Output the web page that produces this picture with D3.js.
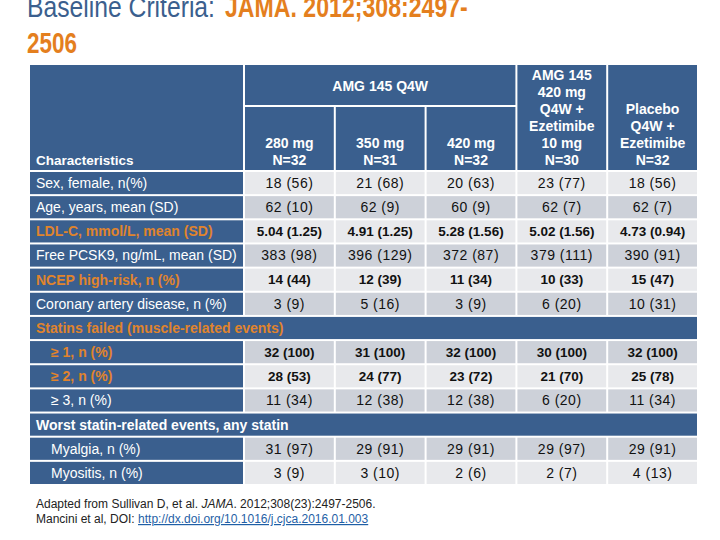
<!DOCTYPE html>
<html>
<head>
<meta charset="utf-8">
<script src="https://cdn.jsdelivr.net/npm/d3@7"></script>
<style>
  html, body { margin: 0; padding: 0; background: #fff; }
  svg { display: block; }
  text { font-family: "Liberation Sans", Arial, sans-serif; }
</style>
</head>
<body>
<svg id="chart" width="720" height="540"></svg>
<script>
// ---------- data ----------
const titleMain = "Baseline Criteria:";
const titleRef1 = "JAMA. 2012;308:2497-";
const titleRef2 = "2506";

const spanHeader = "AMG 145 Q4W";
const cornerHeader = "Characteristics";
const columnHeaders = [
  ["280 mg", "N=32"],
  ["350 mg", "N=31"],
  ["420 mg", "N=32"],
  ["AMG 145", "420 mg", "Q4W +", "Ezetimibe", "10 mg", "N=30"],
  ["Placebo", "Q4W +", "Ezetimibe", "N=32"]
];
const spannedColumns = [0, 1, 2];

const categories = [
  "Sex, female, n(%)",
  "Age, years, mean (SD)",
  "LDL-C, mmol/L, mean (SD)",
  "Free PCSK9, ng/mL, mean (SD)",
  "NCEP high-risk, n (%)",
  "Coronary artery disease, n (%)",
  "Statins failed (muscle-related events)",
  "\u2265 1, n (%)",
  "\u2265 2, n (%)",
  "\u2265 3, n (%)",
  "Worst statin-related events, any statin",
  "Myalgia, n (%)",
  "Myositis, n (%)"
];
// kind: plain | hilite | section-orange | section-white ; indent flag
const rowKinds = ["plain","plain","hilite","plain","hilite","plain","section-orange","hilite","hilite","plain","section-white","plain","plain"];
const rowIndent = [false,false,false,false,false,false,false,true,true,true,false,true,true];

const cellValues = [
  ["18 (56)", "21 (68)", "20 (63)", "23 (77)", "18 (56)"],
  ["62 (10)", "62 (9)", "60 (9)", "62 (7)", "62 (7)"],
  ["5.04 (1.25)", "4.91 (1.25)", "5.28 (1.56)", "5.02 (1.56)", "4.73 (0.94)"],
  ["383 (98)", "396 (129)", "372 (87)", "379 (111)", "390 (91)"],
  ["14 (44)", "12 (39)", "11 (34)", "10 (33)", "15 (47)"],
  ["3 (9)", "5 (16)", "3 (9)", "6 (20)", "10 (31)"],
  null,
  ["32 (100)", "31 (100)", "32 (100)", "30 (100)", "32 (100)"],
  ["28 (53)", "24 (77)", "23 (72)", "21 (70)", "25 (78)"],
  ["11 (34)", "12 (38)", "12 (38)", "6 (20)", "11 (34)"],
  null,
  ["31 (97)", "29 (91)", "29 (91)", "29 (97)", "29 (91)"],
  ["3 (9)", "3 (10)", "2 (6)", "2 (7)", "4 (13)"]
];

const footLine1 = ["Adapted from Sullivan D, et al. ", "JAMA", ". 2012;308(23):2497-2506."];
const footLine2 = ["Mancini et al, DOI: ", "http://dx.doi.org/10.1016/j.cjca.2016.01.003"];

// ---------- style ----------
const BLUE = "#3a5f8e";
const ORANGE = "#e0842c";
const LIGHT = "#e8e9ec";
const DARK = "#cdd1d9";
const TITLE_BLUE = "#3b5f8e";
const TITLE_ORANGE = "#e47f1e";

const svg = d3.select("#chart");

// ---------- title (condensed horizontally to the reference widths) ----------
function condensedText(str, x0, y0, targetW, bold, color) {
  const g = svg.append("g");
  const t = g.append("text").attr("x", 0).attr("y", 0)
    .attr("font-size", 30).attr("font-weight", bold ? "bold" : "normal")
    .attr("fill", color).text(str);
  const w = t.node().getComputedTextLength();
  g.attr("transform", `translate(${x0},${y0}) scale(${targetW / w},1)`);
}
condensedText(titleMain, 27, 17, 188, false, TITLE_BLUE);
condensedText(titleRef1, 225, 17, 243, true, TITLE_ORANGE);
condensedText(titleRef2, 27, 53, 50, true, TITLE_ORANGE);

// ---------- scales ----------
const left = 30, labelRight = 243;
const x = d3.scaleBand().domain(d3.range(columnHeaders.length))
  .range([245, 697]).paddingInner(0.022).paddingOuter(0);
const y = d3.scaleBand().domain(d3.range(categories.length))
  .range([172, 484]).paddingInner(0.083).paddingOuter(0);
const right = x(columnHeaders.length - 1) + x.bandwidth();

const headTop = 65, headBottom = 170, spanBottom = 105, subTop = 107;

// ---------- header ----------
const head = svg.append("g");
head.append("rect").attr("x", left).attr("y", headTop)
  .attr("width", labelRight - left).attr("height", headBottom - headTop).attr("fill", BLUE);
head.append("text").attr("x", 36).attr("y", 165)
  .attr("font-size", 13.5).attr("font-weight", "bold").attr("fill", "#fff")
  .text(cornerHeader);

const spanX0 = x(spannedColumns[0]);
const spanX1 = x(spannedColumns[spannedColumns.length - 1]) + x.bandwidth();
head.append("rect").attr("x", spanX0).attr("y", headTop)
  .attr("width", spanX1 - spanX0).attr("height", spanBottom - headTop).attr("fill", BLUE);
head.append("text").attr("x", (spanX0 + spanX1) / 2).attr("y", 86)
  .attr("dy", "0.35em").attr("text-anchor", "middle")
  .attr("font-size", 14).attr("font-weight", "bold").attr("fill", "#fff")
  .text(spanHeader);

columnHeaders.forEach((lines, i) => {
  const top = spannedColumns.includes(i) ? subTop : headTop;
  head.append("rect").attr("x", x(i)).attr("y", top)
    .attr("width", x.bandwidth()).attr("height", headBottom - top).attr("fill", BLUE);
  const t = head.append("text").attr("text-anchor", "middle")
    .attr("font-size", 14).attr("font-weight", "bold").attr("fill", "#fff");
  const n = lines.length;
  lines.forEach((ln, k) => {
    t.append("tspan").attr("x", x(i) + x.bandwidth() / 2)
      .attr("y", 160 - (n - 1 - k) * 17).attr("dy", "0.35em").text(ln);
  });
});

// ---------- body ----------
const body = svg.append("g");
categories.forEach((cat, r) => {
  const kind = rowKinds[r];
  const yy = y(r), h = y.bandwidth(), cy = yy + h / 2;
  const isSection = kind.startsWith("section");
  if (isSection) {
    body.append("rect").attr("x", left).attr("y", yy)
      .attr("width", right - left).attr("height", h).attr("fill", BLUE);
    body.append("text").attr("x", 36).attr("y", cy).attr("dy", "0.35em")
      .attr("font-size", 14).attr("font-weight", "bold")
      .attr("fill", kind === "section-orange" ? ORANGE : "#fff")
      .text(cat);
    return;
  }
  const hil = kind === "hilite";
  body.append("rect").attr("x", left).attr("y", yy)
    .attr("width", labelRight - left).attr("height", h).attr("fill", BLUE);
  body.append("text").attr("x", rowIndent[r] ? 51 : 36).attr("y", cy).attr("dy", "0.35em")
    .attr("font-size", 14).attr("font-weight", hil ? "bold" : "normal")
    .attr("fill", hil ? ORANGE : "#fff")
    .text(cat);
  const fill = r % 2 === 0 ? LIGHT : DARK;
  cellValues[r].forEach((v, c) => {
    body.append("rect").attr("x", x(c)).attr("y", yy)
      .attr("width", x.bandwidth()).attr("height", h).attr("fill", fill);
    body.append("text").attr("x", x(c) + x.bandwidth() / 2).attr("y", cy).attr("dy", "0.35em")
      .attr("text-anchor", "middle")
      .attr("font-size", hil ? 13.5 : 14).attr("font-weight", hil ? "bold" : "normal")
      .attr("letter-spacing", hil ? 0 : 0.5)
      .attr("fill", "#111")
      .text(v);
  });
});

// ---------- footnote ----------
const f1 = svg.append("text").attr("x", 36).attr("y", 508)
  .attr("font-size", 12).attr("fill", "#222");
f1.append("tspan").text(footLine1[0]);
f1.append("tspan").attr("font-style", "italic").text(footLine1[1]);
f1.append("tspan").text(footLine1[2]);
const f2 = svg.append("text").attr("x", 36).attr("y", 523)
  .attr("font-size", 12).attr("fill", "#222");
f2.append("tspan").text(footLine2[0]);
f2.append("tspan").attr("fill", "#1f5fa6").attr("text-decoration", "underline").text(footLine2[1]);
</script>
</body>
</html>
